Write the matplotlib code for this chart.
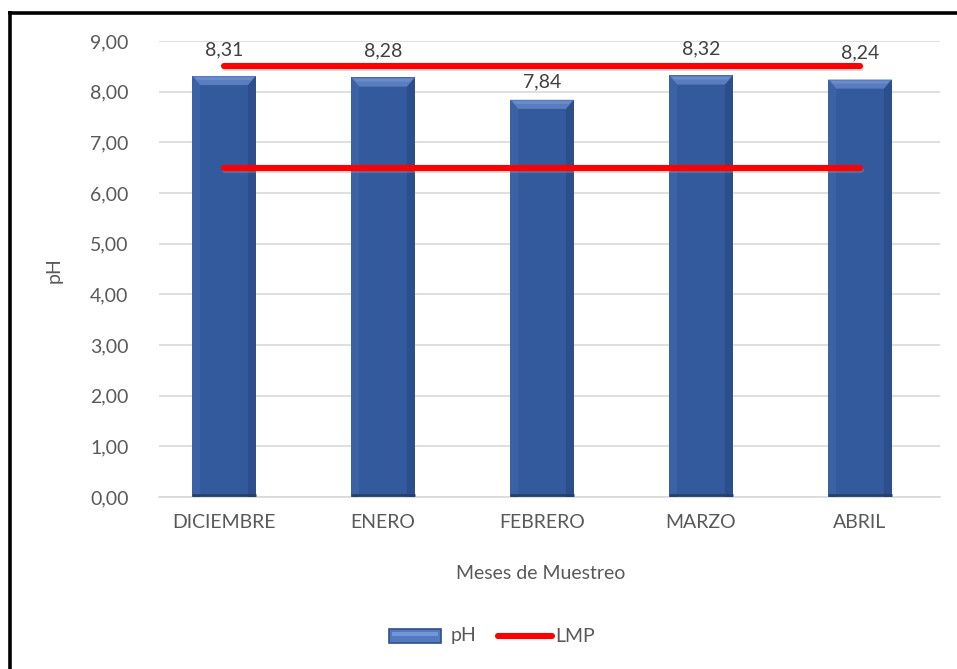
import matplotlib
matplotlib.use("Agg")
import matplotlib.pyplot as plt
from matplotlib.patches import Polygon, Rectangle
from matplotlib.lines import Line2D
import matplotlib.transforms as mtransforms
import numpy as np

categories = ["DICIEMBRE", "ENERO", "FEBRERO", "MARZO", "ABRIL"]
ph_values = [8.31, 8.28, 7.84, 8.32, 8.24]
lmp_upper = [8.5, 8.5, 8.5, 8.5, 8.5]
lmp_lower = [6.5, 6.5, 6.5, 6.5, 6.5]
y_ticks = [0, 1, 2, 3, 4, 5, 6, 7, 8, 9]

FONT = "Lato"
GRAY = "#595959"
plt.rcParams["font.family"] = [FONT, "DejaVu Sans"]

fig = plt.figure(figsize=(9.57, 6.69), dpi=100)
ax = fig.add_axes([159 / 957, 1 - 497 / 669, 781 / 957, 456 / 669])

x = np.arange(len(categories))
bw = 0.40
bars = ax.bar(x, ph_values, width=bw, color="#335A9C", zorder=2, linewidth=0)

# bevel effect
dx = 0.05
dy = 0.18
for rect in bars:
    x0 = rect.get_x()
    x1 = x0 + rect.get_width()
    h = rect.get_height()
    ax.add_patch(Polygon([(x0, 0), (x0, h), (x0 + dx, h - dy), (x0 + dx, 0)],
                         closed=True, facecolor="#3B62A5", edgecolor="none", zorder=3))
    ax.add_patch(Polygon([(x1, 0), (x1, h), (x1 - dx, h - dy), (x1 - dx, 0)],
                         closed=True, facecolor="#2C4E8A", edgecolor="none", zorder=3))
    ax.add_patch(Polygon([(x0, h), (x1, h), (x1 - dx, h - dy), (x0 + dx, h - dy)],
                         closed=True, facecolor="#5A7DBF", edgecolor="none", zorder=3))
    ax.add_patch(Polygon([(x0 + dx * 0.3, h - dy * 0.15), (x1 - dx * 0.3, h - dy * 0.15),
                          (x1 - dx * 0.6, h - dy * 0.45), (x0 + dx * 0.6, h - dy * 0.45)],
                         closed=True, facecolor="#6A8CCB", edgecolor="none", zorder=3.1))
    ax.plot([x0, x1], [0.03, 0.03], color="#23406F", lw=2, zorder=3, solid_capstyle="butt")

# LMP lines
shadow = ax.transData + mtransforms.ScaledTranslation(1 / 100, -2 / 100, fig.dpi_scale_trans)
for series in (lmp_upper, lmp_lower):
    ax.plot(x, series, color="#9a9a9a", lw=4.4, alpha=0.35, zorder=3.5,
            solid_capstyle="round", transform=shadow)
    ax.plot(x, series, color="#FF0000", lw=4.4, zorder=4, solid_capstyle="round")

# data labels
label_offsets = [13, 13, 6.5, 13, 13]
for xi, v, off in zip(x, ph_values, label_offsets):
    txt = f"{v:.2f}".replace(".", ",")
    ax.annotate(txt, (xi, v), xytext=(0, off), textcoords="offset points",
                ha="center", va="bottom", fontsize=14, color="#404040", zorder=5)

ax.set_xlim(-0.409, 4.503)
ax.set_ylim(0, 9)
ax.set_yticks(y_ticks)
ax.set_yticklabels([f"{t:.2f}".replace(".", ",") for t in y_ticks])
ax.set_xticks(x)
ax.set_xticklabels(categories)
ax.tick_params(axis="both", length=0, labelsize=14, labelcolor=GRAY)
ax.tick_params(axis="y", pad=22)
ax.tick_params(axis="x", pad=12)
ax.grid(axis="y", color="#D9D9D9", lw=1.2, zorder=0)
ax.set_axisbelow(True)
for s in ["top", "right", "left"]:
    ax.spines[s].set_visible(False)
ax.spines["bottom"].set_color("#D9D9D9")
ax.spines["bottom"].set_linewidth(1.2)

ax.set_ylabel("pH", fontsize=14, color=GRAY, labelpad=0)
ax.yaxis.set_label_coords((63 - 159) / 781, (497 - 270) / 456)
ax.set_xlabel("Meses de Muestreo", fontsize=14, color=GRAY)
ax.xaxis.set_label_coords((541 - 159) / 781, -(565 - 497) / 456)

# legend (manual, figure coords in pixels)
W, H = 957, 669
def fx(px): return px / W
def fy(py): return 1 - py / H
fig.patches.append(Rectangle((fx(389), fy(643)), fx(441) - fx(389), fy(629) - fy(643),
                             transform=fig.transFigure, facecolor="#5479BE",
                             edgecolor="#2F4F8A", lw=1.2))
fig.patches.append(Rectangle((fx(392), fy(636)), fx(438) - fx(392), fy(632) - fy(636),
                             transform=fig.transFigure, facecolor="#7396D6",
                             edgecolor="none"))
fig.text(fx(451), fy(636), "pH", fontsize=14, color=GRAY, va="center", ha="left")
fig.lines.append(Line2D([fx(498), fx(552)], [fy(636), fy(636)], transform=fig.transFigure,
                        color="#FF0000", lw=4.4, solid_capstyle="round"))
fig.text(fx(555), fy(636), "LMP", fontsize=14, color=GRAY, va="center", ha="left")

# partial black frame (top and left)
fig.lines.append(Line2D([fx(8), 1.0], [fy(12.5), fy(12.5)], transform=fig.transFigure,
                        color="black", lw=2.6, solid_capstyle="butt"))
fig.lines.append(Line2D([fx(9.5), fx(9.5)], [fy(11), 0.0], transform=fig.transFigure,
                        color="black", lw=2.6, solid_capstyle="butt"))

fig.savefig("out.png", dpi=100)
